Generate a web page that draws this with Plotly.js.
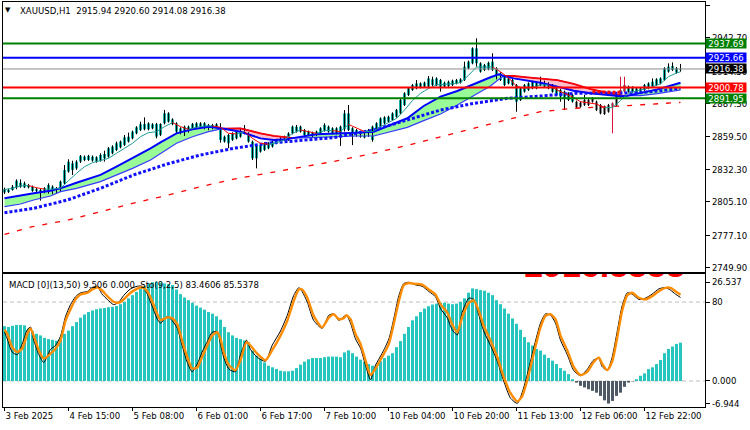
<!DOCTYPE html>
<html>
<head>
<meta charset="utf-8">
<script src="https://cdn.plot.ly/plotly-3.0.1.min.js"></script>
<style>html,body{margin:0;padding:0;background:#fff}#chart{width:750px;height:430px}</style>
</head>
<body>
<div id="chart"></div>
<script>
// ---------- DATA ----------
const opens = [
2815.7,2813.4,2815.1,2817.3,2821.2,2817.3,2819.3,2817.9,2814.3,2815.1,
2813.7,2813.1,2817.9,2813.7,2815.1,2820.7,2830.4,2837.4,2833.2,2838.8,
2843.0,2840.2,2843.0,2842.4,2839.7,2845.2,2843.0,2845.8,2848.6,2855.6,
2852.8,2855.6,2858.3,2862.5,2865.3,2870.3,2865.9,2870.1,2870.3,2861.1,
2870.9,2879.3,2870.1,2870.9,2862.5,2868.1,2863.9,2866.7,2870.9,2868.1,
2870.9,2865.9,2869.5,2867.6,2867.3,2855.6,2861.1,2857.0,2858.3,2859.7,
2866.7,2862.5,2855.6,2841.6,2852.8,2848.6,2854.2,2851.4,2854.2,2855.6,
2857.0,2857.0,2862.5,2868.1,2863.9,2865.3,2861.1,2863.1,2861.1,2862.5,
2864.8,2868.1,2862.5,2866.7,2861.1,2866.0,2879.2,2866.7,2860.3,2863.9,
2859.1,2865.3,2856.9,2865.3,2868.1,2875.9,2872.3,2873.7,2876.4,2879.2,
2886.2,2894.6,2898.8,2904.3,2901.0,2904.9,2901.6,2907.7,2902.9,2907.1,
2901.6,2905.7,2902.9,2904.3,2907.7,2907.1,2916.9,2921.1,2933.6,2921.1,
2915.5,2916.1,2922.5,2916.9,2912.7,2909.9,2904.3,2907.1,2902.9,2890.4,
2897.4,2904.3,2900.2,2904.9,2902.9,2905.7,2904.3,2902.9,2900.2,2893.2,
2897.4,2890.4,2894.6,2889.0,2884.8,2886.2,2890.4,2889.0,2889.0,2886.2,
2884.8,2880.6,2884.8,2886.2,2893.2,2897.4,2901.6,2897.4,2900.2,2897.4,
2898.8,2900.2,2901.6,2902.9,2904.3,2907.1,2914.1,2918.9,2913.3,2915.94];
const highs = [
2817.1,2816.2,2819.3,2824.0,2824.0,2822.1,2820.2,2818.8,2816.8,2816.2,
2817.4,2820.7,2819.0,2817.6,2823.0,2836.0,2840.8,2839.6,2840.0,2844.4,
2844.0,2844.5,2844.0,2843.3,2845.8,2848.0,2851.0,2852.5,2855.6,2856.5,
2861.1,2863.1,2864.8,2868.5,2872.3,2875.9,2871.8,2871.0,2871.2,2870.9,
2882.1,2880.2,2875.1,2871.8,2867.6,2869.0,2869.0,2871.2,2871.8,2871.8,
2871.8,2870.4,2870.4,2871.0,2870.9,2860.6,2862.0,2863.4,2864.8,2866.8,
2869.5,2863.4,2856.5,2853.7,2853.7,2855.1,2855.1,2856.5,2857.9,2859.2,
2860.6,2863.4,2869.0,2869.5,2869.0,2866.2,2864.8,2864.0,2864.8,2867.6,
2870.9,2869.0,2867.6,2867.6,2869.0,2882.0,2886.2,2867.6,2866.2,2864.8,
2864.8,2866.2,2869.0,2871.8,2875.9,2876.8,2877.3,2880.1,2882.9,2891.3,
2896.9,2901.1,2903.8,2907.1,2905.2,2905.8,2910.5,2909.9,2909.4,2908.0,
2905.8,2906.6,2907.5,2908.0,2908.6,2922.5,2923.4,2934.5,2942.0,2922.0,
2920.6,2922.5,2929.5,2917.8,2913.6,2910.8,2909.4,2908.0,2903.8,2901.1,
2903.8,2905.2,2906.6,2905.8,2909.9,2906.6,2905.2,2903.8,2901.1,2899.7,
2898.3,2896.9,2895.5,2889.9,2889.1,2894.6,2891.3,2892.7,2889.9,2887.1,
2885.7,2887.1,2888.5,2895.5,2909.9,2909.9,2902.5,2901.9,2901.1,2901.1,
2903.8,2905.2,2908.5,2908.6,2909.4,2917.8,2921.1,2921.9,2918.0,2920.60];
const lows = [
2811.8,2812.6,2814.6,2815.7,2817.0,2816.8,2816.4,2813.6,2813.0,2806.2,
2812.4,2812.0,2811.5,2812.6,2814.2,2819.8,2829.6,2827.7,2832.0,2837.8,
2839.3,2839.5,2838.8,2837.9,2838.9,2838.8,2842.2,2845.0,2847.8,2850.0,
2852.0,2854.8,2857.5,2861.7,2864.5,2865.0,2865.0,2865.9,2858.3,2860.3,
2870.0,2871.5,2869.3,2862.5,2861.7,2860.3,2863.1,2865.9,2866.8,2867.3,
2865.9,2865.1,2865.9,2866.8,2854.7,2854.8,2850.0,2856.2,2857.5,2858.9,
2861.7,2854.8,2840.2,2833.2,2846.4,2847.8,2849.2,2850.6,2853.4,2854.8,
2856.2,2856.2,2861.7,2863.1,2863.1,2860.3,2860.3,2859.5,2860.3,2861.7,
2864.0,2863.1,2861.7,2861.7,2852.0,2864.0,2864.5,2852.7,2859.5,2858.9,
2858.3,2859.5,2855.5,2864.5,2867.3,2870.1,2871.5,2872.9,2875.6,2878.4,
2885.4,2893.8,2898.0,2899.4,2900.2,2900.8,2900.8,2902.1,2902.1,2897.4,
2900.8,2901.3,2902.1,2903.5,2904.1,2906.3,2916.1,2920.3,2918.3,2913.3,
2914.7,2915.3,2914.7,2907.7,2906.3,2902.1,2903.5,2902.1,2880.6,2889.6,
2896.6,2898.0,2899.4,2899.4,2902.1,2900.8,2899.4,2896.6,2893.8,2889.0,
2882.0,2889.6,2888.2,2883.5,2884.0,2885.4,2885.4,2888.2,2881.2,2878.4,
2877.9,2879.8,2862.5,2885.4,2892.4,2896.6,2896.6,2896.6,2895.2,2896.6,
2898.0,2899.4,2900.8,2902.1,2903.5,2906.3,2913.3,2914.7,2912.5,2914.08];
const closes = [
2813.0,2815.1,2817.9,2822.9,2817.9,2820.7,2817.3,2814.3,2815.7,2810.9,
2816.5,2819.3,2812.9,2816.5,2822.1,2831.8,2838.8,2831.8,2838.8,2843.6,
2840.2,2843.6,2839.7,2838.8,2844.4,2841.6,2850.0,2851.4,2854.2,2850.8,
2859.2,2859.7,2863.9,2867.6,2870.1,2865.9,2870.9,2866.7,2859.7,2870.3,
2879.3,2872.3,2874.2,2863.9,2866.7,2861.1,2868.1,2870.3,2867.6,2870.9,
2866.7,2869.5,2866.7,2870.1,2857.0,2859.7,2854.2,2862.5,2863.9,2865.9,
2862.5,2855.6,2841.6,2852.8,2847.2,2854.2,2850.0,2855.6,2857.0,2858.3,
2859.7,2862.5,2868.1,2863.9,2868.1,2861.1,2863.9,2860.3,2863.9,2866.7,
2869.5,2863.9,2866.7,2862.5,2868.1,2879.2,2865.3,2859.7,2865.3,2859.7,
2863.9,2860.3,2868.1,2870.9,2875.0,2870.9,2876.4,2879.2,2882.0,2890.4,
2896.0,2900.2,2902.9,2900.2,2904.3,2901.6,2908.5,2902.9,2908.5,2900.2,
2904.9,2902.1,2906.6,2907.1,2904.9,2918.3,2922.5,2933.6,2921.1,2914.1,
2919.7,2921.6,2915.5,2908.5,2907.1,2902.9,2908.5,2902.9,2889.0,2900.2,
2902.9,2898.8,2905.7,2900.2,2907.1,2901.6,2900.2,2897.4,2894.6,2898.8,
2891.8,2896.0,2889.0,2884.3,2888.2,2890.4,2886.2,2891.8,2882.0,2879.2,
2878.7,2886.2,2887.6,2894.6,2898.8,2902.9,2897.4,2901.0,2896.0,2900.2,
2902.9,2904.3,2905.7,2907.7,2908.5,2916.9,2918.3,2915.5,2916.9,2916.38];
const greyBars = [143,144,145,146,147,148,149,150,151,152,153,154,155];
const redWickBars = [152,154,155];

// time axis labels (every 16 bars)
const timeTickBars = [0,16,32,48,64,80,96,112,128,144,160];
const timeTickText = ["3 Feb 2025","4 Feb 15:00","5 Feb 08:00","6 Feb 01:00","6 Feb 17:00","7 Feb 10:00","10 Feb 04:00","10 Feb 20:00","11 Feb 13:00","12 Feb 06:00","12 Feb 22:00"];

// price axis ticks
const priceTicks = [2969.90,2942.70,2914.50,2887.30,2859.50,2832.30,2805.10,2777.10,2749.90];

// horizontal levels
const levelValues = [2937.69,2925.66,2916.38,2900.78,2891.95];
const levelLineColors = ["#008000","#0000FF","#8c8c8c","#FF0000","#008000"];
const levelBoxColors = ["#008000","#0000FF","#000000","#FF0000","#008000"];
const levelWidths = [2,2,1,2,2];

// fast / slow cloud
const bandX =    [0,4,7.3,11.5,14,18,24,28,32,36.5,39,43,47,51,54.5,59,64,67.3,70.7,72,78,82,85,88,92.3,96.5,100.7,104.8,109,113.2,117.3,121.5,123.6,124.8,127.3,130.7,134,138.2,142.3,146.5,150.7,154,155.7,159,163.2,167.3,169];
const bandFast = [2808.1,2810.1,2812.3,2814.5,2816.5,2821.2,2827.7,2834.6,2841.6,2850.0,2855.0,2862.5,2865.9,2868.1,2866.5,2863.9,2858.3,2856.9,2857.5,2858.5,2861.7,2862.5,2863.1,2863.1,2863.9,2869.5,2875.1,2885.4,2893.2,2897.9,2903.8,2909.4,2911.9,2910.5,2908.5,2906.6,2904.9,2901.6,2898.2,2896.0,2894.3,2893.5,2894.0,2896.5,2899.3,2903.2,2904.9];
const bandSlow = [2801.2,2803.4,2806.7,2810.1,2813.7,2816.5,2822.1,2827.7,2833.2,2840.2,2845.8,2854.2,2859.7,2863.9,2866.5,2866.7,2862.5,2860.3,2859.1,2858.5,2859.2,2859.7,2860.3,2860.3,2860.3,2863.9,2867.5,2873.1,2878.7,2886.2,2893.7,2902.1,2907.7,2910.5,2910.5,2909.4,2908.5,2907.1,2903.8,2899.6,2896.5,2894.3,2894.0,2894.0,2895.7,2897.9,2898.8];
const bandSegments = [[0,14,"up"],[14,19,"down"],[19,33,"up"],[33,42,"down"],[42,46,"up"]];

// thin fast average (teal rising / red falling)
const thinX = [0,2,4,6,8,10,12,14,16,18,20,22,24,26,28,30,32,34,36,38,40,42,44,46,48,50,52,54,56,58,60,62,64,66,68,70,72,74,76,78,80,82,84,86,88,90,92,94,96,98,100,102,104,106,108,110,112,114,116,118,120,122,124,126,128,130,132,134,136,138,140,142,144,146,148,150,152,154,156,158,160,162,164,166,168,169];
const thinY = [2815.5,2816.5,2818.5,2818.8,2817.0,2815.8,2815.8,2816.5,2822.9,2829.0,2834.6,2838.0,2839.7,2841.6,2845.8,2850.0,2854.2,2859.7,2863.1,2863.9,2868.1,2871.5,2868.1,2865.9,2867.6,2868.7,2868.7,2867.6,2862.5,2862.0,2864.0,2858.3,2854.2,2853.3,2854.7,2857.0,2862.5,2865.3,2863.9,2862.5,2864.8,2864.8,2864.0,2870.0,2867.0,2864.0,2864.0,2868.0,2871.5,2875.0,2882.0,2890.0,2896.0,2900.0,2903.0,2903.5,2904.0,2905.0,2911.0,2918.0,2918.0,2918.0,2914.0,2909.0,2902.0,2900.0,2901.0,2903.0,2903.0,2899.0,2896.0,2893.0,2889.0,2888.0,2887.0,2884.0,2884.0,2890.0,2896.0,2898.0,2899.5,2901.5,2904.0,2910.0,2913.0,2914.0];

// dotted average
const dotX = [0,7.3,15.7,24,32.3,40.7,49,57.3,65.7,74,82.3,92.3,100.7,109,117.3,125.7,134,142.3,150.7,159,164,169];
const dotY = [2796.1,2799.8,2806.7,2816.5,2827.7,2836.9,2844.4,2850.0,2854.2,2856.4,2858.9,2865.3,2873.7,2882.0,2887.6,2891.8,2893.7,2896.0,2896.0,2896.5,2898.2,2900.2];
const redDotX = [147,150,154];
const redDotY = [2897.3,2897.0,2896.8];

// dashed long average
const dashX = [0,7,16,24,32,41,49,57,66,74,82,92,101,109,117,126,134,142,151,159,169];
const dashY = [2778.0,2784.4,2790.0,2797.0,2803.9,2810.9,2817.9,2824.0,2829.6,2834.1,2838.8,2845.7,2852.7,2859.7,2866.7,2874.2,2880.6,2883.4,2884.8,2886.2,2888.4];

// MACD histogram
const macdHist = [
13.6,13.4,13.7,13.9,13.9,13.8,13.0,12.4,11.7,11.3,
10.7,10.4,10.2,10.0,10.7,11.7,12.5,13.6,14.6,15.7,
16.5,17.1,17.5,17.8,18.0,18.1,18.3,18.4,18.6,19.05,
19.6,20.5,21.3,22.1,23.0,23.55,24.2,24.5,24.6,24.4,
24.2,24.05,23.8,22.7,21.55,20.7,20.05,19.4,18.7,18.2,
17.7,17.1,16.7,16.05,15.2,13.4,12.1,11.3,10.7,10.4,
10.05,9.6,7.55,6.3,5.5,4.6,3.8,3.4,3.0,2.55,
2.4,2.4,2.55,3.2,4.05,4.8,5.4,5.7,5.7,5.7,
5.9,6.05,6.05,6.05,5.9,7.1,7.6,6.9,6.05,5.3,
4.8,4.2,3.8,4.0,4.9,5.7,6.3,6.9,8.4,9.9,
11.7,13.4,15.05,16.05,17.1,17.97,18.55,18.97,19.2,19.4,
19.4,19.2,19.05,19.2,19.6,20.5,21.9,22.97,22.8,22.55,
22.4,21.9,21.3,20.05,19.05,17.97,16.7,15.5,14.2,12.7,
10.9,9.6,8.8,7.95,7.55,6.55,5.7,5.05,4.2,3.2,
2.55,1.7,0.45,-0.4,-1.2,-1.6,-2.05,-2.45,-2.9,-3.7,
-4.8,-5.6,-4.95,-3.7,-2.9,-1.45,-0.4,-0.1,0.45,1.3,
1.9,2.95,3.4,4.2,5.2,6.9,7.95,8.55,9.2,9.506];
const macdTickVals = [24.55,0,-5.53];
const macdTickText = ["26.537","0.000","-6.944"];

// Stochastic
const stochX = [0,0.7,1.9,3.2,4.4,5.7,6.5,7.3,8.6,9.8,11.5,12.75,14,15.25,16.5,17.75,19,20.7,21.9,23.2,24.4,25.7,27.3,28.6,29.8,31.5,33.2,34.4,35.7,36.9,38.2,39,40.7,41.9,43.2,44.4,45.7,46.9,48.2,49.4,50.7,51.9,53.2,54,54.8,56.1,57.75,59,60.5,61.5,63.2,65.25,66.9,69,70.7,72.3,73.6,74.4,75.7,77.3,79.4,81.1,82.3,83.6,84.8,85.5,86.5,87.75,89,90.25,91.5,92.75,94.4,96.1,97.3,98.6,99.8,101.1,102.75,104.4,106.1,107.75,109,110.7,111.9,113.2,114.4,116.1,117.3,118.6,119.8,121.5,123.2,124.8,126.5,128.2,129.4,130.7,132.3,134,135.25,136.5,137.75,139,140.7,142.3,144,145.7,147.3,148.6,149.4,150.7,151.9,153.2,154.4,155.7,156.9,158.6,160.25,161.9,163.6,165.25,166.5,167.75,169];
const stochSignal = [59,55.75,45.75,42,44.5,55.75,60,54.5,43.25,37,40.75,44.5,50.75,65.75,74.5,82,85.75,87,89.5,91.25,88.75,84.5,80.25,79.5,82,87,90.25,91.25,88.25,80.75,70.75,66.25,68.25,67.75,63.25,50.75,38.25,29.5,30.25,38.25,47,54.5,57,52,42,32,28.25,35.75,49.5,47,40.75,35.75,43.25,54.5,65.75,80.75,89.5,89.5,83.25,69.5,60.75,68.25,70.75,67,67.75,70,67,55.75,48.25,35.75,24.5,29.5,38.25,48.25,63.25,80.75,92.75,94.5,93.75,93.25,89.5,85.75,78.25,72,63.25,57,68.25,79.5,81.25,73.25,62,50.75,38.25,23.25,10.75,4.5,8.25,20.75,40.75,60.75,69.5,70.75,67,54.5,43.25,30.75,24.5,27,34.5,37.75,33.25,28.25,34.5,53.25,73.25,85.25,87,83.25,82,84.5,88.25,90.75,90.75,88.25,85.54];
const stochMain = [57,52,42,40,48,59,61,51,40,34,44,47,54,69,78,84,87,88,91,92,86,82,78,80,85,90,92,92,86,77,67,64,69,66,60,47,34,27,33,42,50,57,57.5,48,38,29,27,40,51,44,38,35,47,58,70,85,91,88,80,66,60,70,71,66,69,70,64,52,45,32,21,32,41,52,67,85,94,95,93,92,88,84,75,68,59,55,72,83,82,70,58,47,35,20,7,3,11,25,45,64,71,70,64,51,40,28,24,29,36,37,31,28,38,58,77,87,86,82,83,86,90,91,89,86,83.46];
const stochLevels = [80,20];

// ---------- STYLE ----------
const FONT = "Tahoma, 'DejaVu Sans Condensed', 'Liberation Sans', Arial, sans-serif";
const TEAL = "#20B2AA", GREY = "#8a8a8a", CRIMSON = "#DC143C";
const HIST_POS = "#26C6BE", HIST_NEG = "#4E5966";

const idx = opens.map((_, i) => i);
const traces = [];

// cloud fills
bandSegments.forEach(([a, b, kind]) => {
  const xs = bandX.slice(a, b + 1);
  traces.push({type:"scatter", mode:"lines", x: xs, y: bandSlow.slice(a, b + 1),
    line:{width:0, color:"rgba(0,0,0,0)"}, xaxis:"x", yaxis:"y", hoverinfo:"skip"});
  traces.push({type:"scatter", mode:"lines", x: xs, y: bandFast.slice(a, b + 1),
    line:{width:0, color:"rgba(0,0,0,0)"}, fill:"tonexty",
    fillcolor: kind === "up" ? "#98FB98" : "#FFC0CB", xaxis:"x", yaxis:"y", hoverinfo:"skip"});
});

// wicks
function wickTrace(sel, color) {
  const wx = [], wy = [];
  idx.filter(sel).forEach(i => { wx.push(i, i, null); wy.push(lows[i], highs[i], null); });
  return {type:"scatter", mode:"lines", x: wx, y: wy, line:{color, width:1},
    xaxis:"x", yaxis:"y", hoverinfo:"skip"};
}
traces.push(wickTrace(i => !redWickBars.includes(i), "#000000"));
traces.push(wickTrace(i => redWickBars.includes(i), CRIMSON));

// bodies
traces.push({type:"bar", x: idx,
  base: idx.map(i => Math.min(opens[i], closes[i])),
  y: idx.map(i => Math.max(Math.abs(closes[i] - opens[i]), 0.6)),
  width: 0.75,
  marker:{color: idx.map(i => greyBars.includes(i) ? GREY : TEAL), line:{width:0}},
  xaxis:"x", yaxis:"y", hoverinfo:"skip"});

// cloud boundary lines
traces.push({type:"scatter", mode:"lines", x: bandX, y: bandSlow,
  line:{color:"#3a3aff", width:1.2}, xaxis:"x", yaxis:"y", hoverinfo:"skip"});
bandSegments.filter(s => s[2] === "down").forEach(([a, b]) => {
  traces.push({type:"scatter", mode:"lines", x: bandX.slice(a, b + 1), y: bandSlow.slice(a, b + 1),
    line:{color:"#FF0000", width:1.8}, xaxis:"x", yaxis:"y", hoverinfo:"skip"});
});
traces.push({type:"scatter", mode:"lines", x: bandX, y: bandFast,
  line:{color:"#0000FF", width:2}, xaxis:"x", yaxis:"y", hoverinfo:"skip"});

// dashed long average
traces.push({type:"scatter", mode:"lines", x: dashX, y: dashY,
  line:{color:"#FF0000", width:1.3, dash:"5px,8px"}, xaxis:"x", yaxis:"y", hoverinfo:"skip"});

// dotted average
traces.push({type:"scatter", mode:"lines", x: dotX, y: dotY,
  line:{color:"#1010FF", width:3, dash:"3px,2px"}, xaxis:"x", yaxis:"y", hoverinfo:"skip"});
traces.push({type:"scatter", mode:"lines", x: redDotX, y: redDotY,
  line:{color:"#FF0000", width:3, dash:"3px,2px"}, xaxis:"x", yaxis:"y", hoverinfo:"skip"});

// thin average, coloured by slope
const upX = [], upY = [], dnX = [], dnY = [];
for (let j = 0; j < thinX.length - 1; j++) {
  const tx = [thinX[j], thinX[j + 1], null];
  const ty = [thinY[j], thinY[j + 1], null];
  if (thinY[j + 1] < thinY[j]) { dnX.push(...tx); dnY.push(...ty); }
  else { upX.push(...tx); upY.push(...ty); }
}
traces.push({type:"scatter", mode:"lines", x: upX, y: upY, line:{color:"#1E9A94", width:1},
  xaxis:"x", yaxis:"y", hoverinfo:"skip"});
traces.push({type:"scatter", mode:"lines", x: dnX, y: dnY, line:{color:"#FF0000", width:1},
  xaxis:"x", yaxis:"y", hoverinfo:"skip"});

// MACD histogram
traces.push({type:"bar", x: idx, y: macdHist, width: 0.74,
  marker:{color: macdHist.map(v => v >= 0 ? HIST_POS : HIST_NEG), line:{width:0}},
  xaxis:"x2", yaxis:"y2", hoverinfo:"skip"});

// Stochastic
traces.push({type:"scatter", mode:"lines", x: stochX, y: stochMain,
  line:{color:"#000000", width:1, shape:"spline", smoothing:0.6}, xaxis:"x2", yaxis:"y3", hoverinfo:"skip"});
traces.push({type:"scatter", mode:"lines", x: stochX, y: stochSignal,
  line:{color:"#FF8C00", width:2.4, shape:"spline", smoothing:0.6}, xaxis:"x2", yaxis:"y3", hoverinfo:"skip"});

// partially hidden red label at the top of the indicator window (only its lower part shows)
traces.push({type:"scatter", mode:"text", x:[150], y:[23.6], text:["2916.3838"],
  textposition:"top center",
  textfont:{color:"#FF0000", size:34, family:"'Liberation Sans', Arial, sans-serif", weight:"bold"},
  cliponaxis:true, xaxis:"x2", yaxis:"y2", hoverinfo:"skip"});

// ---------- LAYOUT ----------
const shapes = [];
levelValues.forEach((v, k) => shapes.push({type:"line", xref:"paper", x0:0, x1:1, yref:"y", y0:v, y1:v,
  line:{color: levelLineColors[k], width: levelWidths[k]}, layer:"above"}));
stochLevels.forEach(v => shapes.push({type:"line", xref:"paper", x0:0, x1:1, yref:"y3", y0:v, y1:v,
  line:{color:"#BDBDBD", width:1, dash:"4px,3px"}, layer:"below"}));

const annotations = [];
levelValues.forEach((v, k) => annotations.push({xref:"paper", x:1, xanchor:"left", xshift:0,
  yref:"y", y:v, yanchor:"middle", text: v.toFixed(2), showarrow:false,
  bgcolor: levelBoxColors[k], font:{color:"#FFFFFF", size:9.5, family:FONT},
  width:40, height:9, borderpad:0, align:"center"}));
annotations.push({xref:"paper", yref:"paper", x:0.0071, y:0.980, xanchor:"center", yanchor:"middle",
  text:"▼", showarrow:false, font:{size:7, color:"#000", family:"'DejaVu Sans', sans-serif"}});
annotations.push({xref:"paper", yref:"paper", x:0.0214, y:0.978, xanchor:"left", yanchor:"middle",
  text:"XAUUSD,H1\u00a0\u00a02915.94 2920.60 2914.08 2916.38", showarrow:false,
  font:{size:9.5, color:"#000", family:FONT}});
annotations.push({xref:"paper", yref:"paper", x:0.0057, y:0.3037, xanchor:"left", yanchor:"middle",
  text:"MACD [0](13,50) 9.506 0.000\u00a0\u00a0Sto(9,2,5) 83.4606 85.5378", showarrow:false,
  font:{size:9.5, color:"#000", family:FONT}});

const axisCommon = {showgrid:false, zeroline:false, showline:true, mirror:true, linecolor:"#000", linewidth:1,
  tickcolor:"#000", tickfont:{size:9.5, color:"#000", family:FONT}};

const layout = {
  width:750, height:430,
  margin:{l:3, r:45, t:2, b:23},
  paper_bgcolor:"#FFFFFF", plot_bgcolor:"#FFFFFF",
  showlegend:false, hovermode:false, barmode:"overlay",
  xaxis: Object.assign({}, axisCommon, {domain:[0,1], anchor:"y", range:[-0.375, 175.125],
    showticklabels:false, ticks:""}),
  yaxis: Object.assign({}, axisCommon, {domain:[0.3333,1], anchor:"x", side:"right",
    range:[2746.47, 2972.41], tickvals: priceTicks, ticktext: priceTicks.map(v => v.toFixed(2)),
    ticks:"outside", ticklen:4}),
  xaxis2: Object.assign({}, axisCommon, {domain:[0,1], anchor:"y2", matches:"x",
    tickvals: timeTickBars, ticktext: timeTickText, ticks:"outside", ticklen:3, tickangle:0,
    ticklabelposition:"outside right"}),
  yaxis2: Object.assign({}, axisCommon, {domain:[0,0.3284], anchor:"x2", side:"right",
    range:[-6.45, 26.537], tickvals: macdTickVals, ticktext: macdTickText, ticks:"outside", ticklen:4}),
  yaxis3: Object.assign({}, axisCommon, {overlaying:"y2", anchor:"x2", side:"right", showline:false,
    range:[0.26, 101.3], tickvals:[80], ticktext:["80"], ticks:"outside", ticklen:4}),
  shapes, annotations
};

Plotly.newPlot("chart", traces, layout, {staticPlot:true, displayModeBar:false});
</script>
</body>
</html>
